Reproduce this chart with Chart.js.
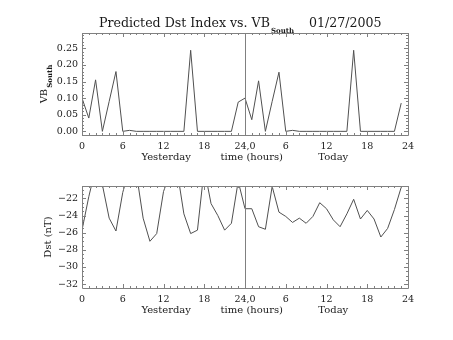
<!DOCTYPE html>
<html lang="en">
<head>
<meta charset="UTF-8" />
<title>Predicted Dst Index vs. VB South</title>
<script src="https://cdn.jsdelivr.net/npm/chart.js@4.4.0/dist/chart.umd.min.js"></script>
<style>
	body { margin: 0; background: #fff; }
	#wrap { position: relative; width: 453px; height: 340px; }
	canvas { position: absolute; left: 0; }
</style>
</head>
<body>
<div id="wrap">
	<canvas id="vbChart" width="453" height="170" style="top:0"></canvas>
	<canvas id="dstChart" width="453" height="170" style="top:170px"></canvas>
</div>
<script>
// hours since start of yesterday (0-23 yesterday, 24-47 today)
var hours = [0, 1, 2, 3, 4, 5, 6, 7, 8, 9, 10, 11, 12, 13, 14, 15, 16, 17, 18, 19, 20, 21, 22, 23,
	24, 25, 26, 27, 28, 29, 30, 31, 32, 33, 34, 35, 36, 37, 38, 39, 40, 41, 42, 43, 44, 45, 46, 47];

var vbSouth = [0.10, 0.04, 0.155, 0.0, 0.09, 0.18, 0.0, 0.003, 0, 0, 0, 0, 0, 0, 0, 0, 0.244, 0, 0, 0, 0, 0, 0, 0.088,
	0.10, 0.035, 0.152, 0.0, 0.09, 0.178, 0.0, 0.003, 0, 0, 0, 0, 0, 0, 0, 0, 0.244, 0, 0, 0, 0, 0, 0, 0.085];

var dst = [-25.7, -21.8, -18.5, -20.4, -24.3, -25.8, -21.3, -18.5, -19.0, -24.3, -27.0, -26.1,
	-21.2, -19.0, -18.7, -23.8, -26.1, -25.7, -18.5, -22.6, -24.0, -25.7, -24.9, -20.0,
	-23.2, -23.2, -25.3, -25.6, -20.6, -23.6, -24.1, -24.8, -24.3, -24.9, -24.1, -22.5,
	-23.2, -24.5, -25.3, -23.8, -22.1, -24.4, -23.4, -24.4, -26.5, -25.5, -23.3, -20.7];

var hourTicks = [0, 6, 12, 18, 24, 30, 36, 42, 48];
var vbTicks = [0, 0.05, 0.10, 0.15, 0.20, 0.25];
var dstTicks = [-32, -30, -28, -26, -24, -22];

var axisColor = "#808080";
var lineColor = "#505050";
var textColor = "#1a1a1a";
var serif = "'DejaVu Serif', serif";

function hourLabel(v) {
	if (v === 24) return "24,0";
	return v > 24 ? String(v - 24) : String(v);
}

// IDL style box with major and minor ticks on all four sides, plus the midnight line
var framePlugin = {
	id: "frame",
	afterDatasetsDraw: function (chart) {
		var a = chart.chartArea;
		var xs = chart.scales.x, ys = chart.scales.y;
		var minor = chart.options.plugins.frame.minorStep;
		var ctx = chart.ctx;
		ctx.save();
		ctx.strokeStyle = axisColor;
		ctx.lineWidth = 1;
		ctx.beginPath();
		ctx.rect(Math.round(a.left) + 0.5, Math.round(a.top) + 0.5,
			Math.round(a.right - a.left), Math.round(a.bottom - a.top));
		// midnight divider
		var xm = Math.round(xs.getPixelForValue(24)) + 0.5;
		ctx.moveTo(xm, a.top);
		ctx.lineTo(xm, a.bottom);
		// x ticks, hourly minor, 6-hourly major
		for (var h = 0; h <= 48; h++) {
			var px = Math.round(xs.getPixelForValue(h)) + 0.5;
			var len = h % 6 === 0 ? 4 : 2;
			ctx.moveTo(px, a.bottom);
			ctx.lineTo(px, a.bottom - len);
			ctx.moveTo(px, a.top);
			ctx.lineTo(px, a.top + len);
		}
		// y ticks
		var n = Math.round((ys.max - ys.min) / minor) + 2;
		var start = Math.ceil(ys.min / minor) * minor;
		for (var i = 0; i < n; i++) {
			var v = start + i * minor;
			if (v > ys.max + 1e-9) break;
			var py = Math.round(ys.getPixelForValue(v)) + 0.5;
			var major = ys.ticks.some(function (t) { return Math.abs(t.value - v) < minor / 10; });
			var l = major ? 4 : 2;
			ctx.moveTo(a.left, py);
			ctx.lineTo(a.left + l, py);
			ctx.moveTo(a.right, py);
			ctx.lineTo(a.right - l, py);
		}
		ctx.stroke();
		ctx.restore();
	}
};

// text around the plots: title, day labels, y title
var labelPlugin = {
	id: "labels",
	afterDraw: function (chart) {
		var o = chart.options.plugins.labels;
		var ctx = chart.ctx;
		var xs = chart.scales.x;
		var a = chart.chartArea;
		ctx.save();
		ctx.fillStyle = textColor;
		ctx.textBaseline = "middle";
		ctx.textAlign = "center";
		ctx.font = "10px " + serif;
		var ly = a.bottom + 22;
		ctx.fillText("Yesterday", xs.getPixelForValue(12.4), ly);
		ctx.fillText("time (hours)", xs.getPixelForValue(25), ly);
		ctx.fillText("Today", xs.getPixelForValue(37), ly);

		if (o.title) {
			ctx.textAlign = "left";
			ctx.textBaseline = "alphabetic";
			ctx.font = "12.6px " + serif;
			var t = o.title[0];
			ctx.fillText(t, 99, 27);
			var w = ctx.measureText(t).width;
			ctx.font = "bold 7px " + serif;
			ctx.fillText(o.title[1], 99 + w + 1, 33);
			ctx.font = "12.6px " + serif;
			ctx.fillText(o.title[2], 309, 27);
		}

		var cy = (a.top + a.bottom) / 2;
		ctx.translate(o.yTitleX, cy);
		ctx.rotate(-Math.PI / 2);
		ctx.textBaseline = "alphabetic";
		ctx.font = "10px " + serif;
		var main = o.yTitle[0], sub = o.yTitle[1];
		var mw = ctx.measureText(main).width;
		var sw = 0;
		if (sub) {
			ctx.font = "bold 7px " + serif;
			sw = ctx.measureText(sub).width + 1;
		}
		var x0 = -(mw + sw) / 2;
		ctx.textAlign = "left";
		ctx.font = "10px " + serif;
		ctx.fillText(main, x0, 0);
		if (sub) {
			ctx.font = "bold 7px " + serif;
			ctx.fillText(sub, x0 + mw + 1, 5);
		}
		ctx.restore();
	}
};

function makeChart(id, values, yMin, yMax, yTicks, yFormat, cfg) {
	var points = hours.map(function (h, i) { return { x: h, y: values[i] }; });
	return new Chart(document.getElementById(id).getContext("2d"), {
		type: "line",
		data: {
			datasets: [{
				data: points,
				borderColor: lineColor,
				borderWidth: 1,
				pointRadius: 0,
				tension: 0,
				fill: false,
				clip: 0
			}]
		},
		options: {
			responsive: false,
			animation: false,
			events: [],
			layout: { padding: { top: cfg.top, right: 45, left: 0, bottom: 0 } },
			plugins: {
				legend: { display: false },
				tooltip: { enabled: false },
				frame: { minorStep: cfg.minorStep },
				labels: { title: cfg.title, yTitle: cfg.yTitle, yTitleX: cfg.yTitleX }
			},
			scales: {
				x: {
					type: "linear",
					min: 0,
					max: 48,
					grid: { display: false, drawTicks: false },
					border: { display: false },
					afterBuildTicks: function (s) {
						s.ticks = hourTicks.map(function (v) { return { value: v }; });
					},
					afterFit: function (s) { s.height = cfg.xHeight; },
					ticks: {
						autoSkip: false,
						maxRotation: 0,
						padding: 6,
						color: textColor,
						font: { family: serif, size: 9.5 },
						callback: function (v) { return hourLabel(v); }
					}
				},
				y: {
					min: yMin,
					max: yMax,
					grid: { display: false, drawTicks: false },
					border: { display: false },
					afterBuildTicks: function (s) {
						s.ticks = yTicks.map(function (v) { return { value: v }; });
					},
					afterFit: function (s) { s.width = 82; },
					ticks: {
						padding: 4,
						color: textColor,
						font: { family: serif, size: 9.5 },
						callback: yFormat
					}
				}
			}
		},
		plugins: [framePlugin, labelPlugin]
	});
}

makeChart("vbChart", vbSouth, -0.011, 0.296, vbTicks,
	function (v) { return v.toFixed(2); },
	{ top: 33, xHeight: 35, minorStep: 0.01, yTitleX: 47,
	  title: ["Predicted Dst Index vs. VB", "South", "01/27/2005"],
	  yTitle: ["VB", "South"] });

makeChart("dstChart", dst, -32.45, -20.55, dstTicks,
	function (v) { return String(v).replace("-", "\u2212"); },
	{ top: 16, xHeight: 52, minorStep: 0.5, yTitleX: 51,
	  title: null,
	  yTitle: ["Dst (nT)", null] });
</script>
</body>
</html>
